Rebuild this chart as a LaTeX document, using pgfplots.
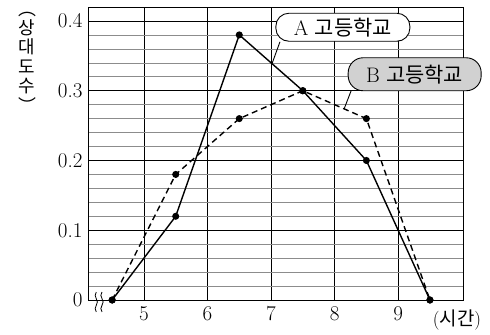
\documentclass[border=0pt]{standalone}
\usepackage{pgfplots}
\pgfplotsset{compat=1.18}
\usepackage{fontspec}
\newfontfamily\kr{Noto Sans CJK KR}
% Latin Modern stops at 17.28pt, so scale it up
\newcommand\tl[1]{\scalebox{1.22}{\fontsize{17.28}{20}\selectfont #1}}

\begin{document}
\begin{tikzpicture}
\useasboundingbox (-88bp,-35bp) rectangle (402bp,300bp);
\begin{axis}[
    at={(0,0)}, anchor=south west,
    scale only axis, width=375bp, height=293bp,
    xmin=4.12, xmax=10.02, ymin=0, ymax=0.42,
    xtick={5,6,7,8,9},
    xticklabels={\tl{5},\tl{6},\tl{7},\tl{8},\tl{9}},
    ytick={0,0.1,0.2,0.3,0.4},
    yticklabels={\tl{0},\tl{0.1},\tl{0.2},\tl{0.3},\tl{0.4}},
    minor ytick={0.02,0.04,0.06,0.08,0.12,0.14,0.16,0.18,0.22,0.24,0.26,0.28,0.32,0.34,0.36,0.38,0.42},
    major tick length=0, minor tick length=0,
    xmajorgrids, ymajorgrids, yminorgrids,
    major grid style={black, line width=0.8pt},
    minor grid style={black!45, line width=0.6pt},
    axis line style={black, line width=0.9pt},
    xticklabel style={yshift=-3bp},
    yticklabel style={xshift=-2bp},
    clip=false,
]
% A 고등학교
\addplot[black, line width=1.4pt, mark=*, mark size=2.8pt]
    coordinates {(4.5,0) (5.5,0.12) (6.5,0.38) (7.5,0.30) (8.5,0.20) (9.5,0)};
% B 고등학교
\addplot[black, line width=1.4pt, dash pattern=on 6pt off 4pt,
    mark=*, mark size=2.8pt, mark options={solid}]
    coordinates {(4.5,0) (5.5,0.18) (6.5,0.26) (7.5,0.30) (8.5,0.26) (9.5,0)};

% axis break
\draw[line width=0.8pt] (axis cs:4.25,0.0114) to[out=-125,in=125] (axis cs:4.25,0.0019)
    to[out=-55,in=55] (axis cs:4.25,-0.0076) to[out=-125,in=125] (axis cs:4.25,-0.0171);
\draw[line width=0.8pt] (axis cs:4.34,0.0114) to[out=-125,in=125] (axis cs:4.34,0.0019)
    to[out=-55,in=55] (axis cs:4.34,-0.0076) to[out=-125,in=125] (axis cs:4.34,-0.0171);

\draw[line width=0.9pt] (axis cs:7.14,0.37) -- (axis cs:7.02,0.34);
\node[draw, line width=0.9pt, fill=white, rounded corners=13bp,
    minimum height=28bp, minimum width=134bp,
    font=\fontsize{21}{24}\selectfont] at (axis cs:8.13,0.391) {\tl{A} {\kr 고등학교}};

\draw[line width=0.9pt] (axis cs:8.26,0.30) -- (axis cs:8.15,0.274);
\node[draw, line width=0.9pt, fill=black!18, rounded corners=15bp,
    minimum height=33bp, minimum width=133bp,
    font=\fontsize{21}{24}\selectfont] at (axis cs:9.26,0.3236) {\tl{B} {\kr 고등학교}};
\end{axis}

\node[align=center, font=\fontsize{18}{19.5}\selectfont\kr] at (-61bp,238bp)
    {︵\\상\\대\\도\\수\\︶};
\node[font=\fontsize{19}{22}\selectfont] at (369bp,-20bp)
    {\scalebox{1.1}{\fontsize{17.28}{20}\selectfont (}{\kr 시간}\scalebox{1.1}{\fontsize{17.28}{20}\selectfont )}};
\end{tikzpicture}
\end{document}
